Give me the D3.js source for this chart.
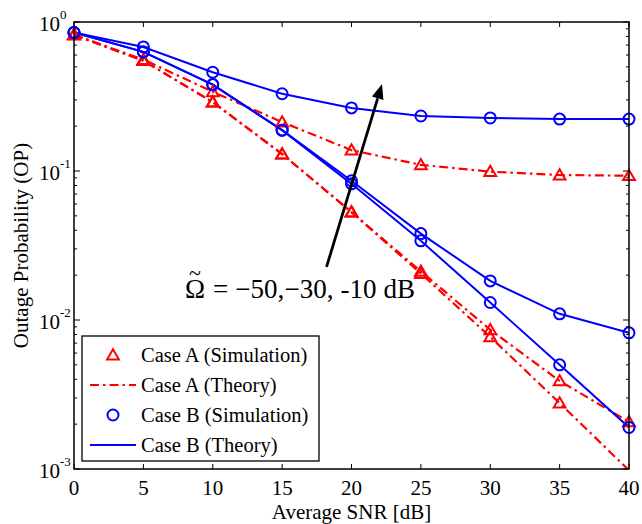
<!DOCTYPE html>
<html>
<head>
<meta charset="utf-8">
<script src="https://cdn.jsdelivr.net/npm/d3@7"></script>
<style>
  body { margin: 0; background: #fff; }
  text { font-family: "Liberation Serif", "Times New Roman", serif; fill: #000; }
</style>
</head>
<body>
<div class="container"></div>
<script>
// average SNR in dB
var snr = [0, 5, 10, 15, 20, 25, 30, 35, 40];

// Case A (red triangles / dash-dot), omega = -10, -30, -50 dB
var caseA_m10 = [0.82, 0.56, 0.34, 0.213, 0.138, 0.11, 0.099, 0.094, 0.093];
var caseA_m30 = [0.82, 0.55, 0.29, 0.13, 0.053, 0.0212, 0.0086, 0.0039, 0.00207];
var caseA_m50 = [0.82, 0.55, 0.29, 0.13, 0.053, 0.0205, 0.0077, 0.00277, 0.00098];

// Case B (blue circles / solid)
var caseB_m10 = [0.85, 0.68, 0.46, 0.33, 0.265, 0.234, 0.227, 0.223, 0.223];
var caseB_m30 = [0.85, 0.63, 0.38, 0.188, 0.086, 0.038, 0.0183, 0.011, 0.0082];
var caseB_m50 = [0.85, 0.63, 0.38, 0.188, 0.082, 0.034, 0.0131, 0.005, 0.0019];

var xTicks = [0, 5, 10, 15, 20, 25, 30, 35, 40];
var yTicks = [1, 0.1, 0.01, 0.001];
var yTickExp = ["0", "-1", "-2", "-3"];

var legendLabels = ["Case A (Simulation)", "Case A (Theory)", "Case B (Simulation)", "Case B (Theory)"];

var W = 642, H = 524;
var pL = 74, pR = 629, pT = 22, pB = 469;
var red = "#ff0000", blue = "#0000ff";

var svg = d3.select(".container").append("svg")
  .attr("width", W).attr("height", H)
  .attr("font-family", "Liberation Serif, serif");

var x = d3.scaleLinear().domain([0, 40]).range([pL, pR]);
var y = d3.scaleLog().domain([0.001, 1]).range([pB, pT]);

svg.append("clipPath").attr("id", "plot")
  .append("rect").attr("x", pL).attr("y", pT)
  .attr("width", pR - pL).attr("height", pB - pT);

// minor ticks on log axis
var minor = [];
[0.001, 0.01, 0.1].forEach(function(d) {
  for (var k = 2; k <= 9; k++) minor.push(d * k);
});

var ticks = svg.append("g").attr("stroke", "#000").attr("stroke-width", 1);
xTicks.forEach(function(t) {
  ticks.append("line").attr("x1", x(t)).attr("x2", x(t)).attr("y1", pB).attr("y2", pB - 5);
  ticks.append("line").attr("x1", x(t)).attr("x2", x(t)).attr("y1", pT).attr("y2", pT + 5);
});
yTicks.forEach(function(t) {
  ticks.append("line").attr("x1", pL).attr("x2", pL + 6).attr("y1", y(t)).attr("y2", y(t));
  ticks.append("line").attr("x1", pR).attr("x2", pR - 6).attr("y1", y(t)).attr("y2", y(t));
});
minor.forEach(function(t) {
  ticks.append("line").attr("x1", pL).attr("x2", pL + 3).attr("y1", y(t)).attr("y2", y(t));
  ticks.append("line").attr("x1", pR).attr("x2", pR - 3).attr("y1", y(t)).attr("y2", y(t));
});

// tick labels
svg.append("g").selectAll("text").data(xTicks).enter().append("text")
  .attr("x", function(d) { return x(d); })
  .attr("y", pB + 26)
  .attr("text-anchor", "middle")
  .style("font-size", "21px")
  .text(function(d) { return d; });

var yl = svg.append("g");
yTicks.forEach(function(t, i) {
  yl.append("text")
    .attr("x", pL - 14).attr("y", y(t) + 9)
    .attr("text-anchor", "end")
    .style("font-size", "21px")
    .text("10");
  yl.append("text")
    .attr("x", pL - 14).attr("y", y(t) - 3)
    .style("font-size", "13px")
    .text(yTickExp[i]);
});

// axis labels
svg.append("text")
  .attr("x", (pL + pR) / 2).attr("y", 519)
  .attr("text-anchor", "middle")
  .style("font-size", "21px")
  .text("Average SNR [dB]");

svg.append("text")
  .attr("transform", "translate(28," + ((pT + pB) / 2) + ") rotate(-90)")
  .attr("text-anchor", "middle")
  .style("font-size", "21px")
  .text("Outage Probability (OP)");

// series
var line = d3.line()
  .x(function(d, i) { return x(snr[i]); })
  .y(function(d) { return y(d); });

var plot = svg.append("g").attr("clip-path", "url(#plot)");

[caseA_m10, caseA_m30, caseA_m50].forEach(function(s) {
  plot.append("path").attr("d", line(s))
    .attr("fill", "none").attr("stroke", red).attr("stroke-width", 2.2)
    .attr("stroke-dasharray", "9,4,2.5,4");
});
[caseB_m10, caseB_m30, caseB_m50].forEach(function(s) {
  plot.append("path").attr("d", line(s))
    .attr("fill", "none").attr("stroke", blue).attr("stroke-width", 2);
});

var tri = d3.symbol().type(d3.symbolTriangle).size(60);

function triangles(g, s) {
  g.selectAll(null).data(s.map(function(d, i) { return [snr[i], d]; })
      .filter(function(p) { return p[1] >= 0.001; }))
    .enter().append("path")
    .attr("d", tri)
    .attr("transform", function(p) { return "translate(" + x(p[0]) + "," + (y(p[1]) + 1) + ")"; })
    .attr("fill", "none").attr("stroke", red).attr("stroke-width", 2);
}
function circles(g, s) {
  g.selectAll(null).data(s).enter()
    .append("circle")
    .attr("cx", function(d, i) { return x(snr[i]); })
    .attr("cy", function(d) { return y(d); })
    .attr("r", 5.5)
    .attr("fill", "none").attr("stroke", blue).attr("stroke-width", 2);
}
[caseA_m10, caseA_m30, caseA_m50].forEach(function(s) { triangles(svg.append("g"), s); });
[caseB_m10, caseB_m30, caseB_m50].forEach(function(s) { circles(svg.append("g"), s); });

// frame
svg.append("rect")
  .attr("x", pL).attr("y", pT)
  .attr("width", pR - pL).attr("height", pB - pT)
  .attr("fill", "none").attr("stroke", "#000").attr("stroke-width", 1.5);

// arrow annotation (data coords)
var a0 = [x(18.2), y(0.0227)], a1 = [x(22.2), y(0.384)];
var ang = Math.atan2(a1[1] - a0[1], a1[0] - a0[0]);
var hl = 15, hw = 6;
var bx = a1[0] - hl * Math.cos(ang), by = a1[1] - hl * Math.sin(ang);
svg.append("line")
  .attr("x1", a0[0]).attr("y1", a0[1]).attr("x2", bx).attr("y2", by)
  .attr("stroke", "#000").attr("stroke-width", 2.8);
svg.append("path")
  .attr("d", "M" + a1[0] + "," + a1[1] +
    "L" + (bx + hw * Math.sin(ang)) + "," + (by - hw * Math.cos(ang)) +
    "L" + (bx - hw * Math.sin(ang)) + "," + (by + hw * Math.cos(ang)) + "Z")
  .attr("fill", "#000");

// omega-tilde label
var om = svg.append("text")
  .attr("x", 185).attr("y", 298)
  .style("font-size", "27px")
  .text("\u03A9");
var omW = om.node().getComputedTextLength();
svg.append("text")
  .attr("x", 185 + omW / 2).attr("y", 280)
  .attr("text-anchor", "middle")
  .style("font-size", "22px")
  .text("~");
svg.append("text")
  .attr("x", 185 + omW + 8).attr("y", 298)
  .style("font-size", "27px")
  .attr("textLength", 415 - 193 - omW)
  .attr("lengthAdjust", "spacing")
  .text("=\u00A0\u221250,\u221230,\u00A0-10\u00A0dB");

// legend
var lg = svg.append("g");
lg.append("rect").attr("x", 82).attr("y", 336).attr("width", 237).attr("height", 125)
  .attr("fill", "#fff").attr("stroke", "#000").attr("stroke-width", 1.3);
var rowY = [355, 385, 415, 445];
legendLabels.forEach(function(t, i) {
  lg.append("text").attr("x", 141).attr("y", rowY[i] + 7)
    .style("font-size", "20.5px").text(t);
});
lg.append("path").attr("d", tri).attr("transform", "translate(113," + (rowY[0] + 1) + ")")
  .attr("fill", "none").attr("stroke", red).attr("stroke-width", 2);
lg.append("line").attr("x1", 90).attr("x2", 136).attr("y1", rowY[1]).attr("y2", rowY[1])
  .attr("stroke", red).attr("stroke-width", 2.2).attr("stroke-dasharray", "9,4,2.5,4");
lg.append("circle").attr("cx", 113).attr("cy", rowY[2]).attr("r", 5.5)
  .attr("fill", "none").attr("stroke", blue).attr("stroke-width", 2);
lg.append("line").attr("x1", 90).attr("x2", 136).attr("y1", rowY[3]).attr("y2", rowY[3])
  .attr("stroke", blue).attr("stroke-width", 2);
</script>
</body>
</html>
